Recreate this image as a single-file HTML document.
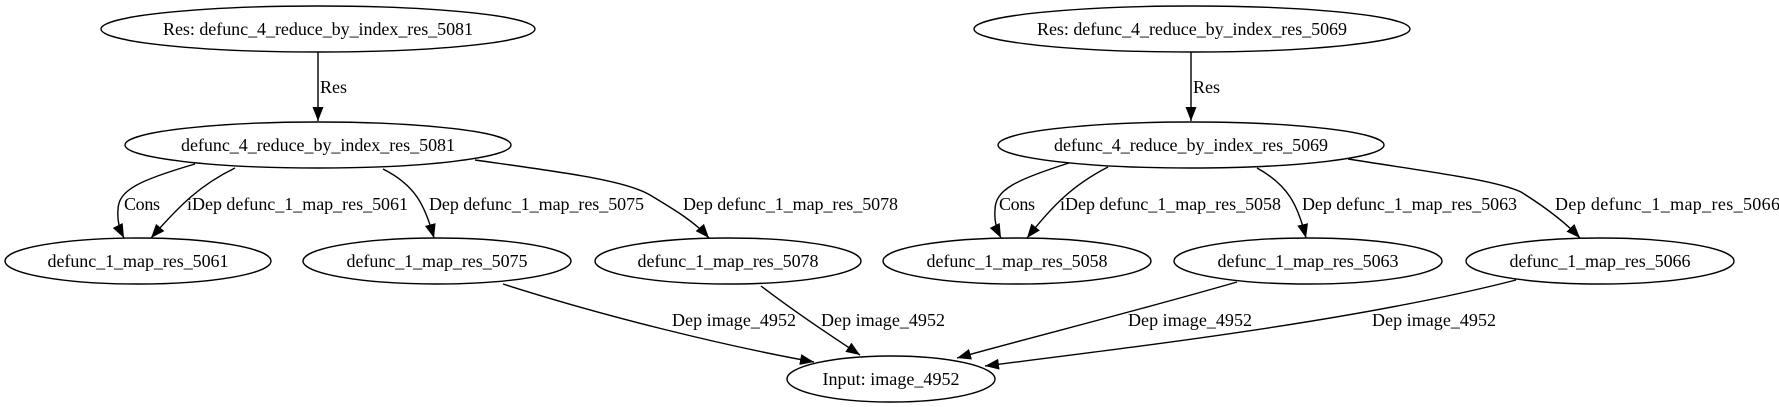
<!DOCTYPE html>
<html><head><meta charset="utf-8"><style>
html,body{margin:0;padding:0;background:#fff;}
svg{display:block;}
text{font-family:"Liberation Serif",serif;font-size:18px;fill:#000;}
.n{fill:none;stroke:#000;stroke-width:1.4;}
.e{fill:none;stroke:#000;stroke-width:1.4;}
</style></head><body>
<svg width="1779" height="407" viewBox="0 0 1779 407">
<defs><marker id="ah" markerWidth="14" markerHeight="11" refX="14" refY="5.5" orient="auto" markerUnits="userSpaceOnUse"><path d="M0,0 L14,5.5 L0,11 Z" fill="#000"/></marker></defs>

<g><ellipse class="n" cx="318" cy="29" rx="217" ry="23"/><text x="318" y="35" text-anchor="middle" textLength="310">Res: defunc_4_reduce_by_index_res_5081</text></g>
<g><ellipse class="n" cx="318" cy="145" rx="193" ry="23"/><text x="318" y="151" text-anchor="middle" textLength="274">defunc_4_reduce_by_index_res_5081</text></g>
<g><ellipse class="n" cx="138" cy="261" rx="133" ry="23"/><text x="138" y="267" text-anchor="middle" textLength="181">defunc_1_map_res_5061</text></g>
<g><ellipse class="n" cx="437" cy="261" rx="134" ry="23"/><text x="437" y="267" text-anchor="middle" textLength="181">defunc_1_map_res_5075</text></g>
<g><ellipse class="n" cx="728" cy="261" rx="133" ry="23"/><text x="728" y="267" text-anchor="middle" textLength="181">defunc_1_map_res_5078</text></g>

<g><ellipse class="n" cx="1192" cy="29" rx="218" ry="23"/><text x="1192" y="35" text-anchor="middle" textLength="310">Res: defunc_4_reduce_by_index_res_5069</text></g>
<g><ellipse class="n" cx="1191" cy="145" rx="193" ry="23"/><text x="1191" y="151" text-anchor="middle" textLength="274">defunc_4_reduce_by_index_res_5069</text></g>
<g><ellipse class="n" cx="1017" cy="261" rx="134" ry="23"/><text x="1017" y="267" text-anchor="middle" textLength="181">defunc_1_map_res_5058</text></g>
<g><ellipse class="n" cx="1308" cy="261" rx="134" ry="23"/><text x="1308" y="267" text-anchor="middle" textLength="181">defunc_1_map_res_5063</text></g>
<g><ellipse class="n" cx="1600" cy="261" rx="134" ry="23"/><text x="1600" y="267" text-anchor="middle" textLength="181">defunc_1_map_res_5066</text></g>

<g><ellipse class="n" cx="891" cy="379" rx="104" ry="23"/><text x="891" y="385" text-anchor="middle" textLength="137">Input: image_4952</text></g>

<!-- left edges -->
<path class="e" d="M318,52 L318,121" marker-end="url(#ah)"/>
<text x="320" y="93" textLength="27">Res</text>
<path class="e" d="M195,164 C140,180 118,190 118,210 C117,222 120,230 124,238" marker-end="url(#ah)"/>
<text x="124" y="210" textLength="36">Cons</text>
<path class="e" d="M235,168 C200,185 180,205 151,238" marker-end="url(#ah)"/>
<text x="187" y="210" textLength="221">iDep defunc_1_map_res_5061</text>
<path class="e" d="M383,169 C415,185 425,205 434,238" marker-end="url(#ah)"/>
<text x="429" y="210" textLength="215">Dep defunc_1_map_res_5075</text>
<path class="e" d="M475,160 C560,172 625,180 650,195 C675,210 695,222 709,238" marker-end="url(#ah)"/>
<text x="683" y="210" textLength="215">Dep defunc_1_map_res_5078</text>
<path class="e" d="M503,284 C600,315 720,345 814,362" marker-end="url(#ah)"/>
<text x="672" y="326" textLength="124">Dep image_4952</text>
<path class="e" d="M761,286 C795,312 830,335 860,355" marker-end="url(#ah)"/>
<text x="821" y="326" textLength="124">Dep image_4952</text>

<!-- right edges -->
<path class="e" d="M1191,52 L1191,121" marker-end="url(#ah)"/>
<text x="1193" y="93" textLength="27">Res</text>
<path class="e" d="M1069,163 C1015,180 995,190 995,210 C994,222 997,230 1001,238" marker-end="url(#ah)"/>
<text x="999" y="210" textLength="36">Cons</text>
<path class="e" d="M1108,167 C1073,185 1053,205 1027,238" marker-end="url(#ah)"/>
<text x="1060" y="210" textLength="221">iDep defunc_1_map_res_5058</text>
<path class="e" d="M1257,168 C1288,185 1298,205 1306,238" marker-end="url(#ah)"/>
<text x="1302" y="210" textLength="215">Dep defunc_1_map_res_5063</text>
<path class="e" d="M1348,159 C1430,172 1495,180 1521,192 C1545,207 1565,222 1580,238" marker-end="url(#ah)"/>
<text x="1555" y="210" textLength="225">Dep defunc_1_map_res_5066</text>
<path class="e" d="M1237,282 C1140,310 1040,335 957,358" marker-end="url(#ah)"/>
<text x="1128" y="326" textLength="124">Dep image_4952</text>
<path class="e" d="M1516,280 C1360,320 1150,345 985,366" marker-end="url(#ah)"/>
<text x="1372" y="326" textLength="124">Dep image_4952</text>
</svg>
</body></html>
